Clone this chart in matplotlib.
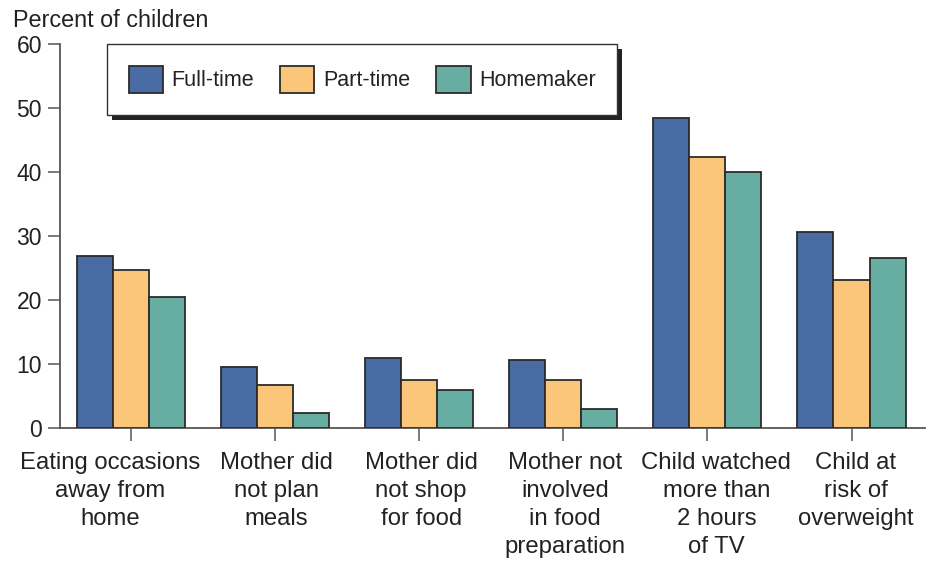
import matplotlib.pyplot as plt
import numpy as np
from matplotlib.patches import Rectangle
from matplotlib.transforms import ScaledTranslation

plt.rcParams['font.family'] = ['Liberation Sans', 'DejaVu Sans']

categories = ["Eating occasions\naway from\nhome",
              "Mother did\nnot plan\nmeals",
              "Mother did\nnot shop\nfor food",
              "Mother not\ninvolved\nin food\npreparation",
              "Child watched\nmore than\n2 hours\nof TV",
              "Child at\nrisk of\noverweight"]
series = ["Full-time", "Part-time", "Homemaker"]
full_time = [26.9, 9.5, 10.9, 10.6, 48.4, 30.6]
part_time = [24.7, 6.7, 7.5, 7.5, 42.3, 23.1]
homemaker = [20.5, 2.3, 5.9, 3.0, 40.0, 26.6]
colors = ["#4a6ca5", "#fcc67a", "#66ada2"]
# small horizontal nudges (pixels) the original uses to keep labels apart
label_shift = [-21, 1, 2, 2, 9, 4]

fig = plt.figure(figsize=(9.34, 5.64), dpi=100)
ax = fig.add_axes([60/934, 1-428/564, (925-60)/934, (428-44)/564])

x = np.arange(len(categories))
w = 0.25
for i, (vals, name) in enumerate(zip([full_time, part_time, homemaker], series)):
    ax.bar(x + (i-1)*w, vals, w, color=colors[i], edgecolor="#2b2b2b",
           linewidth=1.3, label=name, zorder=3)

ax.set_xlim(-0.493, 5.51)
ax.set_ylim(0, 60)
ax.set_yticks(range(0, 61, 10))
ax.set_xticks(x)
ax.set_xticklabels(categories, fontsize=17.2, linespacing=1.37, va="top", color="#222222")
ax.tick_params(axis="y", length=9, width=1.1, color="#555555", labelsize=16.5,
               pad=4, labelcolor="#222222")
ax.tick_params(axis="x", length=9, width=1.1, color="#555555", pad=8)
for s in ["top", "right"]:
    ax.spines[s].set_visible(False)
for s in ["left", "bottom"]:
    ax.spines[s].set_color("#555555")
    ax.spines[s].set_linewidth(1.3)

for lab, dx in zip(ax.get_xticklabels(), label_shift):
    lab.set_transform(lab.get_transform() + ScaledTranslation(dx/100, 0, fig.dpi_scale_trans))

fig.text(13/934, 1-27/564, "Percent of children", fontsize=16.8, ha="left",
         va="baseline", color="#222222")

leg = ax.legend(loc="upper left", bbox_to_anchor=(47/865, 1.0), ncol=3,
                fontsize=15.5, frameon=True, fancybox=False, framealpha=1,
                handlelength=1.6, handleheight=1.6, handletextpad=0.4,
                columnspacing=1.2, borderpad=1.0, borderaxespad=0.0)
leg.get_frame().set_edgecolor("#333333")
leg.get_frame().set_facecolor("white")
leg.get_frame().set_linewidth(1.0)
for t in leg.get_texts():
    t.set_color("#222222")
leg.set_zorder(10)

fig.canvas.draw()
bb = leg.get_window_extent()
shadow = Rectangle((bb.x0 + 5, bb.y0 - 5), bb.width, bb.height, transform=None,
                   facecolor="#222222", edgecolor="none", zorder=9)
ax.add_artist(shadow)

fig.savefig("out.png", dpi=100)
